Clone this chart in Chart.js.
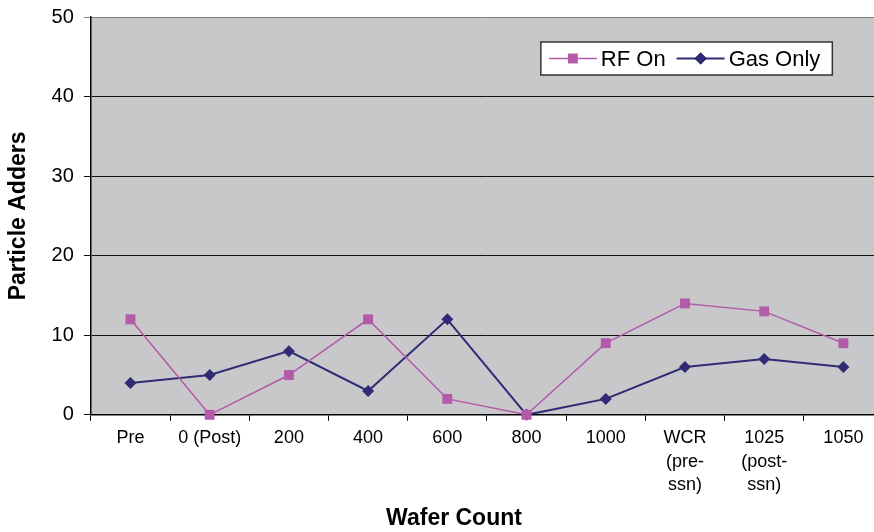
<!DOCTYPE html>
<html>
<head>
<meta charset="utf-8">
<script src="https://cdn.jsdelivr.net/npm/chart.js@4.4.1/dist/chart.umd.min.js"></script>
<style>
  html, body { margin: 0; padding: 0; background: #fff; overflow: hidden; }
  canvas { display: block; }
</style>
</head>
<body>
<canvas id="chart1" width="890" height="532"></canvas>
<script>
const waferCounts = ['Pre', '0 (Post)', '200', '400', '600', '800', '1000', ['WCR', '(pre-', 'ssn)'], ['1025', '(post-', 'ssn)'], '1050'];
const rfOn = [12, 0, 5, 12, 2, 0, 9, 14, 13, 9];
const gasOnly = [4, 5, 8, 3, 12, 0, 2, 6, 7, 6];
const yTicks = [0, 10, 20, 30, 40, 50];

const FONT = '"Liberation Sans", Arial, sans-serif';

// grey plot area + boxed legend inside it
const plotBg = {
    id: 'plotBg',
    beforeDraw(chart) {
        const { ctx, chartArea: a } = chart;
        ctx.save();
        ctx.fillStyle = '#c8c8ca';
        ctx.fillRect(a.left, a.top, a.right - a.left, a.bottom - a.top);
        ctx.restore();
    }
};

const boxLegend = {
    id: 'boxLegend',
    afterDraw(chart) {
        const { ctx, chartArea: a } = chart;
        const x0 = a.left + 450, y0 = a.top + 25, h = 33;
        ctx.save();
        ctx.font = '22px ' + FONT;
        const items = chart.data.datasets.map(ds => ({ ds, w: ctx.measureText(ds.label).width }));
        let w = 8;
        items.forEach((it, i) => { w += 48 + 4 + it.w + (i < items.length - 1 ? 11 : 12); });
        ctx.fillStyle = '#fff';
        ctx.fillRect(x0, y0, w, h);
        ctx.strokeStyle = '#333';
        ctx.lineWidth = 1.5;
        ctx.strokeRect(x0, y0, w, h);
        let x = x0 + 8;
        const cy = y0 + h / 2;
        items.forEach(it => {
            const ds = it.ds;
            ctx.strokeStyle = ds.borderColor;
            ctx.lineWidth = ds.borderWidth;
            ctx.beginPath();
            ctx.moveTo(x, cy);
            ctx.lineTo(x + 48, cy);
            ctx.stroke();
            Chart.helpers.drawPoint(ctx, {
                pointStyle: ds.pointStyle, radius: ds.pointRadius, borderWidth: 0, rotation: 0
            }, x + 24, cy);
            ctx.fillStyle = ds.pointBackgroundColor;
            ctx.fill();
            x += 52;
            ctx.fillStyle = '#000';
            ctx.textBaseline = 'middle';
            ctx.fillText(ds.label, x, cy + 1);
            x += it.w + 11;
        });
        ctx.restore();
    }
};

new Chart(document.getElementById('chart1'), {
    type: 'line',
    data: {
        labels: waferCounts,
        datasets: [
            {
                label: 'RF On',
                data: rfOn,
                borderColor: '#b35aa9',
                backgroundColor: '#b35aa9',
                pointBackgroundColor: '#b35aa9',
                pointBorderColor: '#b35aa9',
                borderWidth: 1.5,
                pointStyle: 'rect',
                pointRadius: 7,
                pointHoverRadius: 7,
                pointBorderWidth: 0,
                tension: 0,
                clip: false
            },
            {
                label: 'Gas Only',
                data: gasOnly,
                borderColor: '#2f2b74',
                backgroundColor: '#2f2b74',
                pointBackgroundColor: '#2f2b74',
                pointBorderColor: '#2f2b74',
                borderWidth: 2,
                pointStyle: 'rectRot',
                pointRadius: 6,
                pointHoverRadius: 6,
                pointBorderWidth: 0,
                tension: 0,
                clip: false
            }
        ]
    },
    options: {
        responsive: false,
        animation: false,
        layout: { padding: { left: 20, right: 2, top: 17, bottom: 2 } },
        plugins: {
            legend: { display: false },
            tooltip: { enabled: false },
            title: {
                display: true,
                position: 'bottom',
                text: 'Wafer Count',
                color: '#000',
                font: { family: FONT, size: 23, weight: 'bold', lineHeight: 1.0 },
                padding: { top: 4, bottom: 0 }
            }
        },
        scales: {
            x: {
                offset: true,
                grid: {
                    display: true,
                    offset: true,
                    drawOnChartArea: false,
                    drawTicks: true,
                    tickLength: 6,
                    color: '#000'
                },
                border: { display: true, color: '#000', width: 1.5 },
                ticks: {
                    color: '#000',
                    padding: 6,
                    maxRotation: 0,
                    autoSkip: false,
                    font: { family: FONT, size: 18, lineHeight: 1.3 }
                }
            },
            y: {
                min: 0,
                max: 50,
                afterBuildTicks(scale) {
                    scale.ticks = yTicks.map(v => ({ value: v }));
                },
                grid: {
                    drawTicks: true,
                    tickLength: 7,
                    color: ctx => (ctx.tick && ctx.tick.value === 50 ? '#808080' : '#111'),
                    lineWidth: 1
                },
                border: { display: true, color: '#000', width: 1.5 },
                ticks: {
                    color: '#000',
                    padding: 10,
                    font: { family: FONT, size: 20, lineHeight: 0.6 }
                },
                title: {
                    display: true,
                    text: 'Particle Adders',
                    color: '#000',
                    font: { family: FONT, size: 23, weight: 'bold' },
                    padding: { top: -15, bottom: 9 }
                }
            }
        }
    },
    plugins: [plotBg, boxLegend]
});
</script>
</body>
</html>
